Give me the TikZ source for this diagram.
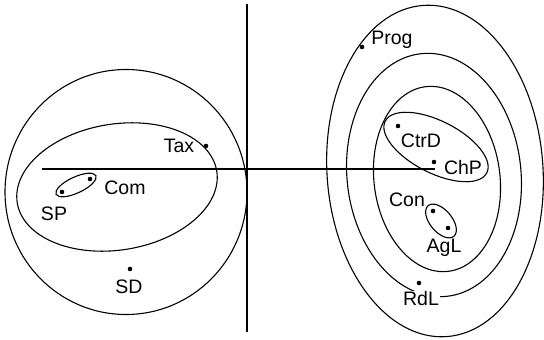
\documentclass[tikz,border=0pt]{standalone}
\usepackage{fontspec}
\setmainfont{Liberation Sans}
\begin{document}
\begin{tikzpicture}[x=1pt,y=-1pt,
  curve/.style={line width=1.1pt},
  axis/.style={line width=1.1pt},
  pt/.style={circle,fill=black,inner sep=0pt,minimum size=4.6pt},
  lab/.style={inner sep=1pt,font=\fontsize{19.5}{19.5}\selectfont}]
\useasboundingbox (0,0) rectangle (544,340);
% axes
\coordinate (vT) at (247,4);
\coordinate (vB) at (247,332);
\coordinate (hL) at (42,169);
\coordinate (hR) at (435,169);
\draw[axis] (vT) -- (vB);
\draw[axis] (hL) -- (hR);
% left group
\draw[curve] (126,192) ellipse [x radius=121, y radius=122.5];
\draw[curve,rotate around={9:(117,187)}] (117,187) ellipse [x radius=101, y radius=63];
\draw[curve,rotate around={25:(76,185)}] (76,185) ellipse [x radius=22, y radius=8];
\node[pt] (dSP) at (62,192) {};
\node[pt] (dCom) at (90,179) {};
\node[pt] (dTax) at (206,146) {};
\node[pt] (dSD) at (130,269) {};
\node[lab] (lSP) at (54,214) {SP};
\node[lab] (lCom) at (125,188) {Com};
\node[lab] (lTax) at (179,146) {Tax};
\node[lab] (lSD) at (129,287) {SD};
% right group
\draw[curve,rotate around={4:(435,171)}] (435,171) ellipse [x radius=108, y radius=166];
\draw[curve,rotate around={6:(434,175)}] (434,175) ellipse [x radius=87, y radius=122];
\draw[curve,rotate around={7:(437,179)}] (437,179) ellipse [x radius=63, y radius=93];
\draw[curve,rotate around={-27:(436,147)}] (436,147) ellipse [x radius=57, y radius=26];
\draw[curve,rotate around={-50:(441,221)}] (441,221) ellipse [x radius=20, y radius=11];
\node[pt] (dProg) at (362,47) {};
\node[pt] (dCtrD) at (398,126) {};
\node[pt] (dChP) at (434,162) {};
\node[pt] (dCon) at (433,211) {};
\node[pt] (dAgL) at (448,228) {};
\node[pt] (dRdL) at (419,283) {};
\node[lab] (lProg) at (392,40) {Prog};
\node[lab] (lCtrD) at (421,141) {CtrD};
\node[lab] (lChP) at (463,168) {ChP};
\node[lab] (lCon) at (407,200) {Con};
\node[lab] (lAgL) at (444,248) {AgL};
\node[lab,fill=white] (lRdL) at (421,299) {RdL};
\end{tikzpicture}
\end{document}
